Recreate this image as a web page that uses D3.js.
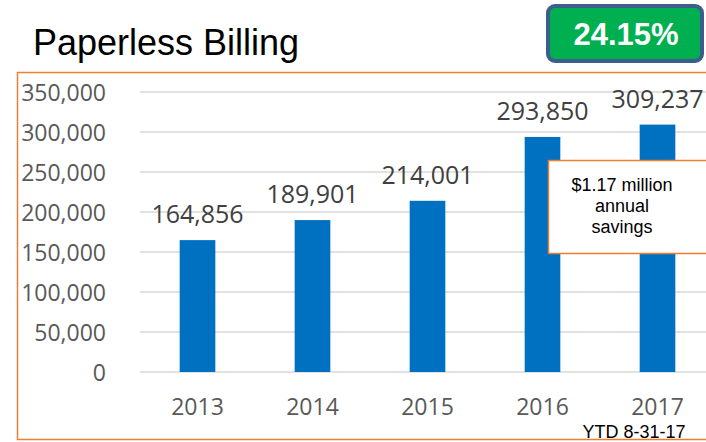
<!DOCTYPE html>
<html>
<head>
<meta charset="utf-8">
<script src="https://cdn.jsdelivr.net/npm/d3@7"></script>
<style>
  body { margin: 0; background: #fff; }
  svg { display: block; }
</style>
</head>
<body>
<div id="chart"></div>
<script>
const years = ["2013", "2014", "2015", "2016", "2017"];
const customers = [164856, 189901, 214001, 293850, 309237];
const yTicks = [0, 50000, 100000, 150000, 200000, 250000, 300000, 350000];

const width = 706;
const height = 442;
const margin = { top: 92, right: -9, bottom: 70, left: 140 };

const svg = d3.select("#chart")
  .append("svg")
  .attr("width", width)
  .attr("height", height);

// orange frame round the chart
svg.append("rect")
  .attr("x", 17.5)
  .attr("y", 72.5)
  .attr("width", 720)
  .attr("height", 367)
  .attr("fill", "none")
  .attr("stroke", "#ed7d31")
  .attr("stroke-width", 1.5);

const xScale = d3.scaleBand()
  .domain(years)
  .range([margin.left, width - margin.right])
  .paddingInner(0.69)
  .paddingOuter(0.345);

const yScale = d3.scaleLinear()
  .domain([0, 350000])
  .range([height - margin.bottom, margin.top]);

// gridlines
svg.append("g")
  .selectAll("line")
  .data(yTicks)
  .enter()
  .append("line")
  .attr("x1", margin.left)
  .attr("x2", width)
  .attr("y1", (d) => yScale(d))
  .attr("y2", (d) => yScale(d))
  .attr("stroke", "#d9d9d9")
  .attr("stroke-width", 1.5);

// y axis labels
const yAxis = svg.append("g")
  .attr("transform", `translate(${margin.left - 31}, 0)`)
  .call(d3.axisLeft(yScale).tickValues(yTicks).tickSize(0).tickFormat(d3.format(",")));
yAxis.select(".domain").remove();
yAxis.selectAll("text")
  .attr("fill", "#595959")
  .style("font-family", "'Open Sans', sans-serif")
  .style("font-size", "23px")
  .attr("dy", "0.36em");

// x axis labels
const xAxis = svg.append("g")
  .attr("transform", `translate(0, ${yScale(0)})`)
  .call(d3.axisBottom(xScale).tickSize(0));
xAxis.select(".domain").remove();
xAxis.selectAll("text")
  .attr("fill", "#595959")
  .attr("dy", "0")
  .attr("y", 43)
  .style("font-family", "'Open Sans', sans-serif")
  .style("font-size", "23px");

// bars
svg.selectAll(".bar")
  .data(customers)
  .enter()
  .append("rect")
  .attr("class", "bar")
  .attr("x", (d, i) => xScale(years[i]))
  .attr("y", (d) => yScale(d))
  .attr("width", xScale.bandwidth())
  .attr("height", (d) => yScale(0) - yScale(d))
  .attr("fill", "#0070c0");

// value labels
svg.selectAll(".value")
  .data(customers)
  .enter()
  .append("text")
  .attr("class", "value")
  .attr("x", (d, i) => xScale(years[i]) + xScale.bandwidth() / 2)
  .attr("y", (d) => yScale(d) - 17)
  .attr("text-anchor", "middle")
  .attr("fill", "#404040")
  .style("font-family", "'Open Sans', sans-serif")
  .style("font-size", "25px")
  .text((d) => d3.format(",")(d));

// title
svg.append("text")
  .attr("x", 33)
  .attr("y", 55)
  .attr("fill", "#000")
  .style("font-family", "'Liberation Sans', Arial, sans-serif")
  .style("font-size", "36px")
  .text("Paperless Billing");

// green badge
svg.append("rect")
  .attr("x", 548)
  .attr("y", 6)
  .attr("width", 154)
  .attr("height", 55)
  .attr("rx", 7)
  .attr("fill", "#00b050")
  .attr("stroke", "#3b5e8c")
  .attr("stroke-width", 4);
svg.append("text")
  .attr("x", 626)
  .attr("y", 45)
  .attr("text-anchor", "middle")
  .attr("fill", "#fff")
  .style("font-family", "'Liberation Sans', Arial, sans-serif")
  .style("font-weight", "bold")
  .style("font-size", "31px")
  .text("24.15%");

// savings callout
svg.append("rect")
  .attr("x", 548.5)
  .attr("y", 160.5)
  .attr("width", 170)
  .attr("height", 93)
  .attr("fill", "#fff")
  .attr("stroke", "#ed7d31")
  .attr("stroke-width", 1.5);
const callout = svg.append("text")
  .attr("text-anchor", "middle")
  .attr("fill", "#000")
  .style("font-family", "'Liberation Sans', Arial, sans-serif")
  .style("font-size", "18px");
["$1.17 million", "annual", "savings"].forEach((line, i) => {
  callout.append("tspan")
    .attr("x", 622)
    .attr("y", 191 + i * 21)
    .text(line);
});

// footnote
svg.append("text")
  .attr("x", 634)
  .attr("y", 438)
  .attr("text-anchor", "middle")
  .attr("fill", "#000")
  .style("font-family", "'Liberation Sans', Arial, sans-serif")
  .style("font-size", "18px")
  .text("YTD 8-31-17");
</script>
</body>
</html>
